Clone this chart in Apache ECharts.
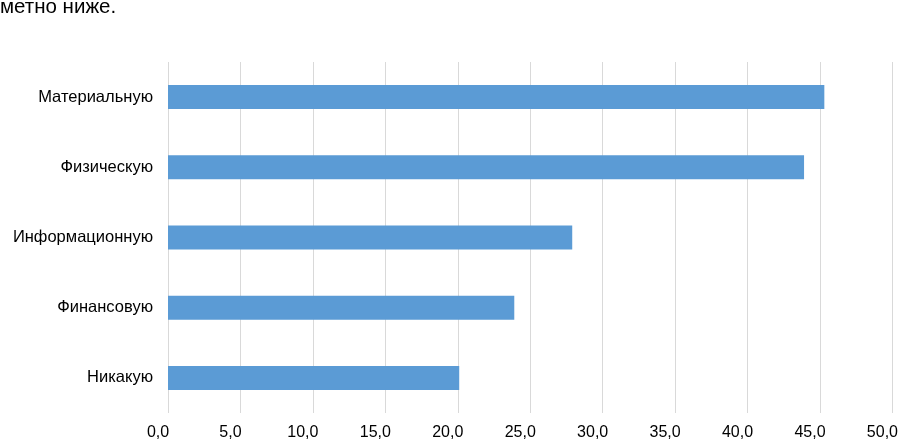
<!DOCTYPE html>
<html>
<head>
<meta charset="utf-8">
<script src="https://cdn.jsdelivr.net/npm/echarts@6/dist/echarts.min.js"></script>
<style>html,body{margin:0;padding:0;background:#fff}#c{width:901px;height:441px}</style>
</head>
<body>
<div id="c"></div>
<script>
var categories = ["Материальную", "Физическую", "Информационную", "Финансовую", "Никакую"];
var values = [45.3, 43.9, 27.9, 23.9, 20.1];
var tickLabels = ["0,0","5,0","10,0","15,0","20,0","25,0","30,0","35,0","40,0","45,0","50,0"];
var headText = "метно ниже.";

var chart = echarts.init(document.getElementById('c'), null, {renderer: 'canvas'});
chart.setOption({
  animation: false,
  backgroundColor: '#fff',
  graphic: [{
    type: 'text', left: 0, top: -3.5,
    style: {text: headText, fontSize: 20.5, fontFamily: 'Liberation Sans, Arial, sans-serif', fill: '#000'}
  }],
  grid: {left: 168, right: 6, top: 62, bottom: 28, containLabel: false},
  xAxis: {
    type: 'value', min: 0, max: 50, interval: 5,
    axisLine: {show: false}, axisTick: {show: false},
    splitLine: {show: true, lineStyle: {color: '#d9d9d9', width: 1}},
    axisLabel: {
      margin: 12, fontSize: 16, color: '#000', fontFamily: 'Liberation Sans, Arial, sans-serif',
      padding: [0, 20, 0, 0],
      formatter: function (v) { return tickLabels[Math.round(v / 5)]; }
    }
  },
  yAxis: {
    type: 'category', data: categories, inverse: true,
    axisLine: {show: false}, axisTick: {show: false}, splitLine: {show: false},
    axisLabel: {margin: 15, fontSize: 16.5, color: '#000', fontFamily: 'Liberation Sans, Arial, sans-serif'}
  },
  series: [{
    type: 'bar', data: values, barWidth: 24,
    itemStyle: {color: '#5b9bd5'}
  }]
});
</script>
</body>
</html>
